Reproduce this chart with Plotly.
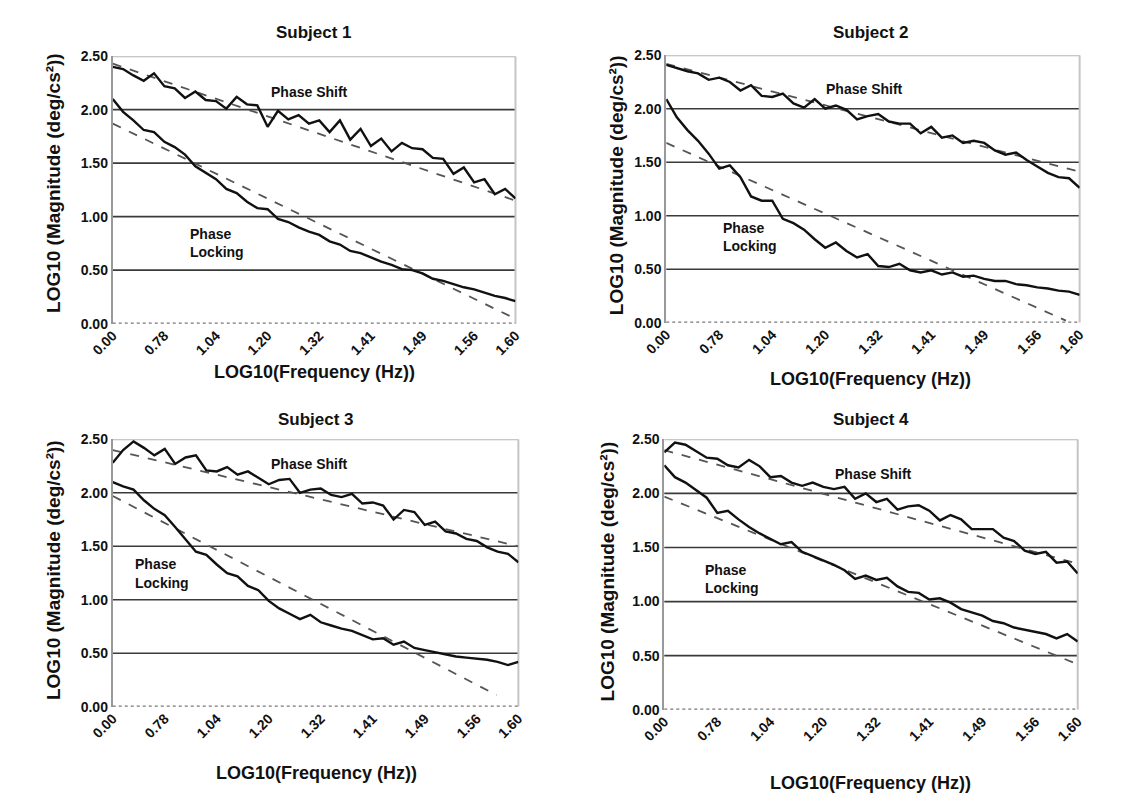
import plotly.graph_objects as go

W, H = 1138, 795

# ---------------- data ----------------
subjects = ["Subject 1", "Subject 2", "Subject 3", "Subject 4"]
freq_hz = list(range(1, 41))
x_tick_hz = [1, 6, 11, 16, 21, 26, 31, 36, 40]
x_tick_text = ["0.00", "0.78", "1.04", "1.20", "1.32", "1.41", "1.49", "1.56", "1.60"]
y_tick_vals = [0, 0.5, 1.0, 1.5, 2.0, 2.5]
y_tick_text = ["0.00", "0.50", "1.00", "1.50", "2.00", "2.50"]
grid_vals = [0.5, 1.0, 1.5, 2.0]

shift_s1 = [2.40, 2.38, 2.32, 2.27, 2.34, 2.22, 2.20, 2.11, 2.17, 2.09,
            2.08, 2.01, 2.12, 2.05, 2.04, 1.84, 1.99, 1.91, 1.95, 1.87,
            1.90, 1.79, 1.90, 1.72, 1.82, 1.66, 1.73, 1.61, 1.69, 1.64,
            1.63, 1.55, 1.54, 1.40, 1.46, 1.32, 1.35, 1.21, 1.26, 1.17]
lock_s1 = [2.10, 1.98, 1.90, 1.81, 1.79, 1.70, 1.65, 1.58, 1.47, 1.41,
           1.35, 1.26, 1.22, 1.14, 1.08, 1.07, 0.98, 0.95, 0.90, 0.86,
           0.83, 0.77, 0.74, 0.68, 0.66, 0.62, 0.58, 0.55, 0.51, 0.50,
           0.47, 0.42, 0.40, 0.37, 0.34, 0.32, 0.29, 0.26, 0.24, 0.21]

shift_s2 = [2.41, 2.38, 2.35, 2.33, 2.27, 2.29, 2.25, 2.17, 2.22, 2.12,
            2.11, 2.14, 2.05, 2.01, 2.09, 2.00, 2.03, 1.99, 1.90, 1.93,
            1.95, 1.88, 1.86, 1.86, 1.77, 1.83, 1.73, 1.75, 1.68, 1.70,
            1.68, 1.61, 1.57, 1.59, 1.52, 1.46, 1.40, 1.36, 1.35, 1.26]
lock_s2 = [2.09, 1.92, 1.80, 1.70, 1.58, 1.44, 1.47, 1.36, 1.18, 1.14,
           1.14, 0.97, 0.93, 0.87, 0.78, 0.70, 0.75, 0.67, 0.61, 0.64,
           0.53, 0.52, 0.55, 0.49, 0.47, 0.49, 0.45, 0.47, 0.43, 0.44,
           0.41, 0.39, 0.39, 0.36, 0.35, 0.33, 0.32, 0.30, 0.29, 0.26]

shift_s3 = [2.28, 2.40, 2.48, 2.42, 2.35, 2.41, 2.27, 2.33, 2.35, 2.21,
            2.20, 2.24, 2.17, 2.20, 2.14, 2.08, 2.12, 2.13, 2.00, 2.03,
            2.04, 1.98, 1.96, 1.99, 1.90, 1.91, 1.88, 1.75, 1.84, 1.82,
            1.70, 1.73, 1.64, 1.62, 1.57, 1.55, 1.49, 1.45, 1.43, 1.35]
lock_s3 = [2.10, 2.06, 2.03, 1.93, 1.85, 1.79, 1.68, 1.57, 1.45, 1.42,
           1.33, 1.25, 1.22, 1.13, 1.09, 0.99, 0.92, 0.87, 0.82, 0.86,
           0.79, 0.76, 0.73, 0.71, 0.67, 0.63, 0.64, 0.58, 0.61, 0.55,
           0.53, 0.51, 0.49, 0.47, 0.46, 0.45, 0.44, 0.42, 0.39, 0.42]

shift_s4 = [2.38, 2.47, 2.45, 2.39, 2.33, 2.32, 2.26, 2.24, 2.31, 2.25,
            2.15, 2.16, 2.10, 2.07, 2.10, 2.06, 2.04, 2.06, 1.95, 2.00,
            1.92, 1.95, 1.85, 1.88, 1.89, 1.84, 1.75, 1.80, 1.76, 1.67,
            1.67, 1.67, 1.59, 1.56, 1.47, 1.44, 1.46, 1.36, 1.37, 1.26]
lock_s4 = [2.26, 2.15, 2.10, 2.03, 1.96, 1.82, 1.84, 1.76, 1.69, 1.63,
           1.58, 1.53, 1.55, 1.46, 1.42, 1.38, 1.34, 1.29, 1.21, 1.24,
           1.20, 1.22, 1.14, 1.09, 1.08, 1.02, 1.03, 0.99, 0.93, 0.90,
           0.87, 0.82, 0.80, 0.76, 0.74, 0.72, 0.70, 0.66, 0.70, 0.63]

# linear-fit (dashed) endpoints: [start Hz, end Hz], [start value, end value]
fit_shift_x = [[1, 40], [1, 40], [1, 40], [1, 40]]
fit_shift_y = [[2.43, 1.15], [2.42, 1.41], [2.40, 1.50], [2.40, 1.35]]
fit_lock_x = [[1, 39.7], [1, 38.7], [1, 37.9], [1, 40]]
fit_lock_y = [[1.87, 0.06], [1.68, 0.02], [1.97, 0.11], [1.97, 0.42]]

shift_all = [shift_s1, shift_s2, shift_s3, shift_s4]
lock_all = [lock_s1, lock_s2, lock_s3, lock_s4]

# ---------------- layout geometry (pixels) ----------------
boxes = [(83, 497, 41, 314), (652, 1077, 40, 313), (83, 500, 432, 705), (650, 1075, 432, 708)]
title_pos = [(290, 17), (863, 17), (292, 412), (863, 412)]
xtitle_pos = [(290, 363), (862, 370), (292, 773), (862, 783)]
ytitle_pos = [(22, 170), (601, 173), (22, 565), (592, 567)]
shift_lbl_pos = [(285, 78), (856, 75), (285, 457), (865, 467)]
lock_lbl_pos = [(160, 212), (708, 206), (104, 549), (690, 555)]

FONT = "Liberation Sans"


def fx(p):
    return p / W


def fy(p):
    return 1 - p / H


fig = go.Figure()
shapes = []
annotations = []
layout = {}

for i in range(4):
    n = "" if i == 0 else str(i + 1)
    xa, ya = "x" + n, "y" + n
    l, r, t, b = boxes[i]

    fig.add_trace(go.Scatter(x=fit_shift_x[i], y=fit_shift_y[i], xaxis=xa, yaxis=ya, mode="lines",
                             line=dict(color="#555555", width=1.8, dash="dash"), showlegend=False))
    fig.add_trace(go.Scatter(x=fit_lock_x[i], y=fit_lock_y[i], xaxis=xa, yaxis=ya, mode="lines",
                             line=dict(color="#555555", width=1.8, dash="dash"), showlegend=False))
    fig.add_trace(go.Scatter(x=freq_hz, y=shift_all[i], xaxis=xa, yaxis=ya, mode="lines",
                             line=dict(color="#111111", width=2.4), showlegend=False))
    fig.add_trace(go.Scatter(x=freq_hz, y=lock_all[i], xaxis=xa, yaxis=ya, mode="lines",
                             line=dict(color="#111111", width=2.4), showlegend=False))

    layout["xaxis" + n] = dict(domain=[fx(l), fx(r)], anchor=ya, range=[1, 40],
                               tickmode="array", tickvals=x_tick_hz, ticktext=x_tick_text,
                               tickangle=-45, showgrid=False, zeroline=False, showline=False,
                               ticks="", tickfont=dict(family=FONT, size=14, color="#111", weight="bold"))
    layout["yaxis" + n] = dict(domain=[fy(b), fy(t)], anchor=xa, range=[0, 2.5],
                               tickmode="array", tickvals=y_tick_vals, ticktext=y_tick_text,
                               showgrid=False, zeroline=False, showline=True, linecolor="#999999",
                               linewidth=2, ticks="",
                               tickfont=dict(family=FONT, size=14, color="#111", weight="bold"))

    dref = xa + " domain"
    for g in grid_vals:
        shapes.append(dict(type="line", xref=dref, yref=ya, x0=0, x1=1, y0=g, y1=g,
                           line=dict(color="#3a3a3a", width=1.6), layer="below"))
    shapes.append(dict(type="line", xref=dref, yref=ya, x0=0, x1=1, y0=2.5, y1=2.5,
                       line=dict(color="#b5b5b5", width=2), layer="below"))
    shapes.append(dict(type="line", xref=dref, yref=ya, x0=1, x1=1, y0=0, y1=2.5,
                       line=dict(color="#c5c5c5", width=2), layer="below"))
    shapes.append(dict(type="line", xref=dref, yref=ya, x0=0, x1=1, y0=0, y1=0,
                       line=dict(color="#777777", width=2.5, dash="dot"), layer="above"))

    tx, ty = title_pos[i]
    annotations.append(dict(text=subjects[i], x=fx(tx), y=fy(ty), xref="paper", yref="paper",
                            showarrow=False, xanchor="center", yanchor="middle",
                            font=dict(family=FONT, size=17, color="#111", weight="bold")))
    tx, ty = xtitle_pos[i]
    annotations.append(dict(text="LOG10(Frequency (Hz))", x=fx(tx), y=fy(ty), xref="paper", yref="paper",
                            showarrow=False, xanchor="center", yanchor="middle",
                            font=dict(family=FONT, size=18, color="#111", weight="bold")))
    tx, ty = ytitle_pos[i]
    annotations.append(dict(text="LOG10 (Magnitude (deg/cs²))", x=fx(tx), y=fy(ty),
                            xref="paper", yref="paper", showarrow=False, textangle=-90,
                            xanchor="center", yanchor="middle",
                            font=dict(family=FONT, size=19, color="#111", weight="bold")))
    tx, ty = shift_lbl_pos[i]
    annotations.append(dict(text="Phase Shift", x=fx(tx), y=fy(ty), xref="paper", yref="paper",
                            showarrow=False, xanchor="center", yanchor="middle",
                            font=dict(family=FONT, size=14, color="#111", weight="bold")))
    tx, ty = lock_lbl_pos[i]
    annotations.append(dict(text="Phase", x=fx(tx), y=fy(ty), xref="paper", yref="paper",
                            showarrow=False, xanchor="left", yanchor="top",
                            font=dict(family=FONT, size=14, color="#111", weight="bold")))
    annotations.append(dict(text="Locking", x=fx(tx), y=fy(ty + 19), xref="paper", yref="paper",
                            showarrow=False, xanchor="left", yanchor="top",
                            font=dict(family=FONT, size=14, color="#111", weight="bold")))

fig.update_layout(width=W, height=H, margin=dict(l=0, r=0, t=0, b=0),
                  paper_bgcolor="white", plot_bgcolor="white",
                  shapes=shapes, annotations=annotations, **layout)

fig.write_html("out.html")
